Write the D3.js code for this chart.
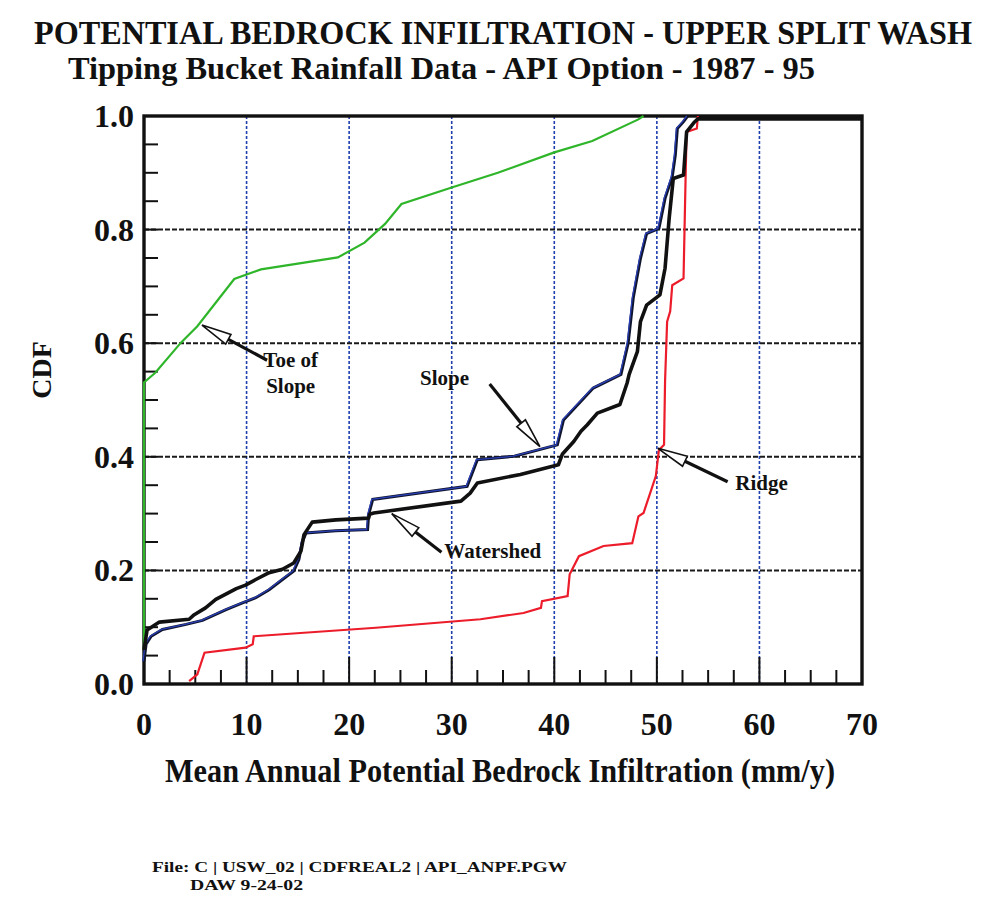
<!DOCTYPE html>
<html>
<head>
<meta charset="utf-8">
<script src="https://cdn.jsdelivr.net/npm/d3@7"></script>
<style>
body { margin: 0; background: #fff; }
text { font-family: "Liberation Serif", "Times New Roman", serif; font-weight: bold; fill: #111; }
</style>
</head>
<body>
<div id="vis-svg"></div>
<script>
var w = 985;
var h = 900;

// axis ticks
var xTicks = [0, 10, 20, 30, 40, 50, 60, 70];
var yTicks = [0.0, 0.2, 0.4, 0.6, 0.8, 1.0];

// series: [infiltration mm/y, CDF]
var toeOfSlope = [[0,0.06],[0,0.531],[1.1,0.548],[3.6,0.601],[5.2,0.63],[8.8,0.713],[11.4,0.73],[18.9,0.751],
  [21.5,0.777],[23.5,0.81],[25.1,0.845],[30.0,0.874],[34.5,0.90],[40,0.936],[43.7,0.956],[48.2,0.994],[48.7,1.0]];

var slope = [[0,0.04],[0.2,0.07],[0.7,0.084],[1.8,0.096],[4.1,0.105],[5.7,0.112],[8.0,0.131],[9.6,0.143],
  [10.9,0.152],[12.2,0.166],[13.5,0.184],[14.6,0.199],[15.1,0.219],[15.45,0.251],[15.8,0.266],[18.7,0.27],
  [21.8,0.272],[21.9,0.298],[22.3,0.325],[31.5,0.348],[32.5,0.395],[36.1,0.401],[40.3,0.421],[40.9,0.465],
  [43.8,0.521],[46.5,0.545],[47.2,0.6],[47.7,0.68],[48.4,0.749],[49.0,0.793],[50.2,0.802],[50.8,0.855],
  [51.5,0.893],[51.8,0.931],[52.0,0.978],[52.6,0.99],[53,1.0]];

var watershed = [[0,0.06],[0.3,0.095],[1.5,0.109],[4.4,0.114],[4.9,0.122],[6.0,0.134],[7.0,0.149],[9.0,0.168],
  [9.9,0.174],[10.9,0.184],[12.2,0.196],[13.5,0.202],[14.6,0.213],[15.3,0.234],[15.6,0.263],[16.4,0.285],
  [18.7,0.289],[21.9,0.292],[22.0,0.299],[22.4,0.301],[30.9,0.322],[31.8,0.336],[32.5,0.354],[36.7,0.369],
  [40.4,0.386],[40.8,0.405],[41.9,0.427],[42.6,0.445],[43.2,0.456],[44.2,0.477],[46.4,0.492],[47.1,0.53],
  [47.3,0.545],[48.1,0.585],[48.4,0.638],[49.0,0.667],[50.3,0.685],[50.8,0.732],[51.2,0.82],[51.6,0.89],
  [52.6,0.896],[52.9,0.972],[53.6,0.988],[54,0.995],[70,0.995]];

var ridge = [[4.4,0.005],[5.2,0.017],[5.9,0.055],[9.9,0.064],[10.6,0.07],[10.7,0.084],[22.6,0.099],[32.8,0.114],
  [37.0,0.125],[38.7,0.134],[38.8,0.146],[41.3,0.155],[41.5,0.193],[42.4,0.225],[44.8,0.243],[47.6,0.248],
  [48.2,0.295],[48.7,0.301],[49.9,0.366],[50.2,0.412],[50.7,0.421],[50.8,0.533],[51.0,0.638],[51.3,0.656],
  [51.5,0.702],[52.6,0.714],[52.8,0.89],[52.9,0.972],[53.9,0.978],[54,1.0]];

// labels with arrows: text spot, arrow tail, arrow tip (data units)
var labelNames = [["Toe of", "Slope"], ["Slope"], ["Watershed"], ["Ridge"]];
var labelAt = [[14.3, 0.558], [29.3, 0.526], [34.0, 0.222], [60.2, 0.342]];
var arrowTail = [[12.0, 0.570], [33.7, 0.528], [29.0, 0.232], [56.9, 0.356]];
var arrowTip = [[5.65, 0.632], [38.6, 0.418], [24.15, 0.30], [50.1, 0.415]];

var plotLeft = 144, plotRight = 862, plotTop = 116, plotBottom = 684;

var canvas = d3.select("#vis-svg").append("svg")
    .attr("width", w)
    .attr("height", h);

var x = d3.scaleLinear().domain([0, 70]).range([plotLeft, plotRight]);
var y = d3.scaleLinear().domain([0, 1]).range([plotBottom, plotTop]);

// titles
canvas.append("text").attr("x", 34).attr("y", 44)
    .attr("font-size", 33).attr("textLength", 938).attr("lengthAdjust", "spacingAndGlyphs")
    .text("POTENTIAL BEDROCK INFILTRATION - UPPER SPLIT WASH");
canvas.append("text").attr("x", 68).attr("y", 79)
    .attr("font-size", 31).attr("textLength", 747).attr("lengthAdjust", "spacingAndGlyphs")
    .text("Tipping Bucket Rainfall Data - API Option - 1987 - 95");

// grid
canvas.selectAll(".vgrid")
    .data(xTicks.filter(d => d > 0 && d < 70))
    .enter().append("line")
    .attr("x1", d => x(d)).attr("x2", d => x(d))
    .attr("y1", plotTop).attr("y2", plotBottom)
    .attr("stroke", "#1f3fae").attr("stroke-width", 1.6).attr("stroke-dasharray", "3,2");

canvas.selectAll(".hgrid")
    .data(yTicks.filter(d => d > 0 && d < 1))
    .enter().append("line")
    .attr("x1", plotLeft).attr("x2", plotRight)
    .attr("y1", d => y(d)).attr("y2", d => y(d))
    .attr("stroke", "#1a1a1a").attr("stroke-width", 2).attr("stroke-dasharray", "5,2");

// ticks, pointing inward
var xMinor = d3.range(0, 70.01, 2.5);
canvas.selectAll(".xtick")
    .data(xMinor.filter(d => d > 0 && d < 70))
    .enter().append("line")
    .attr("x1", d => x(d)).attr("x2", d => x(d))
    .attr("y1", plotBottom).attr("y2", d => d % 10 == 0 ? plotBottom - 27 : plotBottom - 14)
    .attr("stroke", "#111").attr("stroke-width", 2);

var yMinor = d3.range(0.05, 0.999, 0.05);
canvas.selectAll(".ytick")
    .data(yMinor)
    .enter().append("line")
    .attr("x1", plotLeft).attr("x2", plotLeft + 14)
    .attr("y1", d => y(d)).attr("y2", d => y(d))
    .attr("stroke", "#111").attr("stroke-width", 2);

// frame
canvas.append("rect")
    .attr("x", plotLeft).attr("y", plotTop)
    .attr("width", plotRight - plotLeft).attr("height", plotBottom - plotTop)
    .attr("fill", "none").attr("stroke", "#111").attr("stroke-width", 3.4);

// tick labels
canvas.selectAll(".xlab")
    .data(xTicks)
    .enter().append("text")
    .attr("x", d => x(d)).attr("y", plotBottom + 51)
    .attr("text-anchor", "middle").attr("font-size", 32)
    .text(d => d);

canvas.selectAll(".ylab")
    .data(yTicks)
    .enter().append("text")
    .attr("x", plotLeft - 10).attr("y", d => y(d) + 11)
    .attr("text-anchor", "end").attr("font-size", 32)
    .text(d => d.toFixed(1));

// axis titles
canvas.append("text").attr("x", 500).attr("y", 782)
    .attr("text-anchor", "middle").attr("font-size", 33)
    .attr("textLength", 670).attr("lengthAdjust", "spacingAndGlyphs")
    .text("Mean Annual Potential Bedrock Infiltration (mm/y)");
canvas.append("text")
    .attr("transform", "translate(51,370) rotate(-90)")
    .attr("text-anchor", "middle").attr("font-size", 28)
    .text("CDF");

// curves
var line = d3.line().x(d => x(d[0])).y(d => y(d[1]));

canvas.append("path").datum(ridge).attr("d", line)
    .attr("fill", "none").attr("stroke", "#ec1c2a").attr("stroke-width", 2.2);
canvas.append("path").datum(toeOfSlope).attr("d", line)
    .attr("fill", "none").attr("stroke", "#2fb52a").attr("stroke-width", 2.2);
// slope prints as blue over a dark core
canvas.append("path").datum(slope).attr("d", line)
    .attr("fill", "none").attr("stroke", "#10152e").attr("stroke-width", 3);
canvas.append("path").datum(slope).attr("d", line)
    .attr("transform", "translate(-1,0)")
    .attr("fill", "none").attr("stroke", "#2a3fb4").attr("stroke-width", 1.3);
canvas.append("path").datum(watershed).attr("d", line)
    .attr("fill", "none").attr("stroke", "#111").attr("stroke-width", 3.6)
    .attr("stroke-linejoin", "round");

// arrows: black shaft, open triangle head
function drawArrow(tail, tip) {
    var x0 = x(tail[0]), y0 = y(tail[1]), x1 = x(tip[0]), y1 = y(tip[1]);
    var len = Math.sqrt((x1 - x0) * (x1 - x0) + (y1 - y0) * (y1 - y0));
    var ux = (x1 - x0) / len, uy = (y1 - y0) / len;
    var headLen = 30, half = 5.5;
    var bx = x1 - ux * headLen, by = y1 - uy * headLen;
    canvas.append("line")
        .attr("x1", x0).attr("y1", y0).attr("x2", bx).attr("y2", by)
        .attr("stroke", "#111").attr("stroke-width", 3.2);
    canvas.append("path")
        .attr("d", "M" + x1 + "," + y1 +
            "L" + (bx - uy * half) + "," + (by + ux * half) +
            "L" + (bx + uy * half) + "," + (by - ux * half) + "Z")
        .attr("fill", "#fff").attr("stroke", "#111").attr("stroke-width", 1.6);
}

for (var i = 0; i < labelNames.length; i++) {
    drawArrow(arrowTail[i], arrowTip[i]);
    var t = canvas.append("text")
        .attr("x", x(labelAt[i][0])).attr("y", y(labelAt[i][1]))
        .attr("text-anchor", "middle").attr("font-size", 21);
    labelNames[i].forEach(function(s, k) {
        t.append("tspan").attr("x", x(labelAt[i][0])).attr("dy", k == 0 ? 0 : 26).text(s);
    });
}

// footer
canvas.append("text").attr("x", 152).attr("y", 872)
    .attr("font-size", 15).attr("textLength", 415).attr("lengthAdjust", "spacingAndGlyphs")
    .text("File: C | USW_02 | CDFREAL2 | API_ANPF.PGW");
canvas.append("text").attr("x", 190).attr("y", 890)
    .attr("font-size", 15).attr("textLength", 113).attr("lengthAdjust", "spacingAndGlyphs")
    .text("DAW 9-24-02");
</script>
</body>
</html>
